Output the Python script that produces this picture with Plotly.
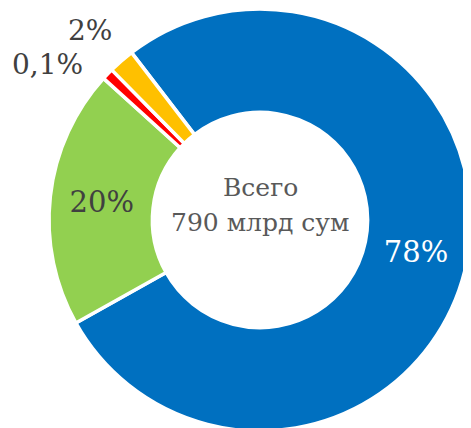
import plotly.graph_objects as go

categories = ["Синий", "Зелёный", "Красный", "Жёлтый"]
values = [78, 20, 0.9, 2]
labels_text = ["78%", "20%", "0,1%", "2%"]
colors = ["#0070C0", "#92D050", "#FF0000", "#FFC000"]
center_lines = ["Всего", "790 млрд сум"]

W, H = 471, 428
OFF = 8  # page body margin offset


def px(x):
    return (x - OFF) / W


def py(y):
    return 1 - (y - OFF) / H


inside_text = [t if i < 2 else "" for i, t in enumerate(labels_text)]

cx, cy, R = 260, 220, 211
fig = go.Figure(go.Pie(
    labels=categories,
    values=values,
    text=inside_text,
    texttemplate="%{text}",
    textposition="inside",
    insidetextorientation="horizontal",
    hole=0.51,
    sort=False,
    direction="clockwise",
    rotation=-37.5,
    marker=dict(colors=colors, line=dict(color="white", width=3.5)),
    insidetextfont=dict(family="DejaVu Serif", size=29, color=["white", "#404040", "#404040", "#404040"]),
    domain=dict(x=[px(cx - R), px(cx + R)], y=[py(cy + R), py(cy - R)]),
    showlegend=False,
    automargin=False,
))

lab_font = dict(family="DejaVu Serif", size=28, color="#404040")
fig.add_annotation(x=px(90), y=py(31), xref="paper", yref="paper", xanchor="center", yanchor="middle",
                   text=labels_text[3], showarrow=False, font=lab_font)
fig.add_annotation(x=px(47), y=py(64), xref="paper", yref="paper", xanchor="center", yanchor="middle",
                   text=labels_text[2], showarrow=False, font=lab_font)

ctr_font = dict(family="DejaVu Serif", size=25, color="#595959")
for line, yy in zip(center_lines, [187, 222]):
    fig.add_annotation(x=px(260), y=py(yy), xref="paper", yref="paper", xanchor="center", yanchor="middle",
                       text=line, showarrow=False, font=ctr_font)

fig.update_layout(
    width=W, height=H,
    margin=dict(l=0, r=0, t=0, b=0),
    paper_bgcolor="white",
    plot_bgcolor="white",
)
fig.write_html("out.html")
